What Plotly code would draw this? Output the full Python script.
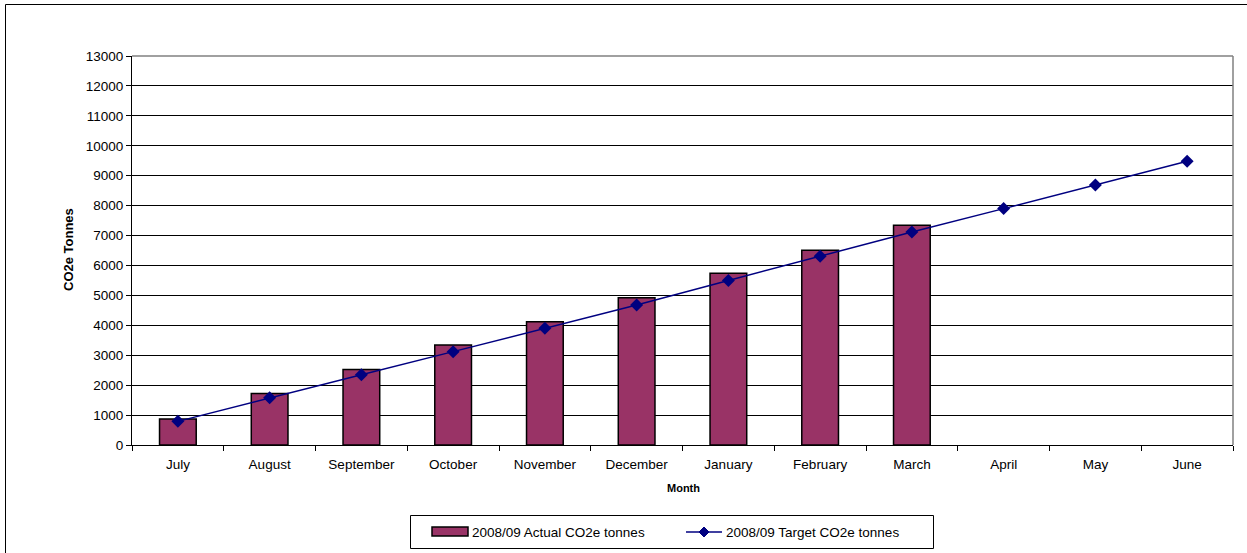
import plotly.graph_objects as go

months = ["July", "August", "September", "October", "November", "December",
          "January", "February", "March", "April", "May", "June"]
actual = [870, 1720, 2520, 3340, 4120, 4920, 5740, 6510, 7340, None, None, None]
target = [790, 1580, 2350, 3120, 3900, 4680, 5500, 6310, 7120, 7900, 8690, 9480]
y_ticks = list(range(0, 14000, 1000))
y_labels = [str(v) for v in y_ticks]

actual_name = "2008/09 Actual CO2e tonnes"
target_name = "2008/09 Target CO2e tonnes"
bar_color = "#993366"
line_color = "#000080"

W, H = 1247, 553
L, R, T, B = 132, 14, 56, 108
pw, ph = W - L - R, H - T - B

def px_x(p):
    return (p - L) / pw

def px_y(p):
    return (H - B - p) / ph

font = "Liberation Sans, Arial, sans-serif"

fig = go.Figure()
fig.add_trace(go.Bar(
    x=months, y=actual, name=actual_name,
    marker=dict(color=bar_color, line=dict(color="#000000", width=1.5)),
    width=0.4,
))
fig.add_trace(go.Scatter(
    x=months, y=target, name=target_name,
    mode="lines+markers",
    line=dict(color=line_color, width=1.5),
    marker=dict(symbol="diamond", size=10, color=line_color),
))

shapes = [
    # plot area frame (top and right edges)
    dict(type="line", xref="paper", yref="paper", x0=0, x1=1, y0=1, y1=1,
         line=dict(color="#808080", width=1.5)),
    dict(type="line", xref="paper", yref="paper", x0=1, x1=1, y0=0, y1=1,
         line=dict(color="#808080", width=1.5)),
    # chart outer border
    dict(type="rect", xref="paper", yref="paper",
         x0=px_x(5.5), x1=px_x(1260), y0=px_y(570), y1=px_y(4.5),
         line=dict(color="#000000", width=1), layer="below"),
    # legend box
    dict(type="rect", xref="paper", yref="paper",
         x0=px_x(410.5), x1=px_x(933.5), y0=px_y(548.5), y1=px_y(515.5),
         line=dict(color="#000000", width=1), fillcolor="white"),
    # legend key: bar swatch
    dict(type="rect", xref="paper", yref="paper",
         x0=px_x(432), x1=px_x(468), y0=px_y(536), y1=px_y(527),
         line=dict(color="#000000", width=1.5), fillcolor=bar_color),
    # legend key: line with diamond
    dict(type="line", xref="paper", yref="paper",
         x0=px_x(686), x1=px_x(722), y0=px_y(532), y1=px_y(532),
         line=dict(color=line_color, width=1.5)),
    dict(type="path", xref="paper", yref="paper",
         path="M {a},{b} L {c},{d} L {a},{e} L {f},{d} Z".format(
             a=px_x(704), b=px_y(527), c=px_x(709), d=px_y(532),
             e=px_y(537), f=px_x(699)),
         line=dict(color=line_color, width=1), fillcolor=line_color),
]

annotations = [
    dict(text="<b>Month</b>", xref="paper", yref="paper",
         x=px_x(683), y=px_y(488), xanchor="center", yanchor="middle",
         showarrow=False, font=dict(size=11)),
    dict(text="<b>CO2e Tonnes</b>", xref="paper", yref="paper",
         x=px_x(68), y=px_y(250), xanchor="center", yanchor="middle",
         textangle=-90, showarrow=False, font=dict(size=13)),
    dict(text=actual_name, xref="paper", yref="paper",
         x=px_x(470), y=px_y(532), xanchor="left", yanchor="middle",
         showarrow=False, font=dict(size=13.5)),
    dict(text=target_name, xref="paper", yref="paper",
         x=px_x(724), y=px_y(532), xanchor="left", yanchor="middle",
         showarrow=False, font=dict(size=13.5)),
]

fig.update_layout(
    width=W, height=H,
    margin=dict(l=L, r=R, t=T, b=B, autoexpand=False),
    paper_bgcolor="white", plot_bgcolor="white",
    font=dict(family=font, size=13.5, color="#000000"),
    showlegend=False,
    bargap=0.6,
    xaxis=dict(
        type="category", tickson="boundaries", ticks="outside", ticklen=5,
        tickcolor="#000000", showline=True, linecolor="#000000", linewidth=1,
        showgrid=False, tickfont=dict(size=13.5), automargin=False,
        ticklabelstandoff=7,
        range=[-0.5, 11.5],
    ),
    yaxis=dict(
        range=[0, 13000], tickvals=y_ticks, ticktext=y_labels,
        ticks="outside", ticklen=5,
        tickcolor="#000000", showline=True, linecolor="#000000", linewidth=1,
        showgrid=True, gridcolor="#000000", gridwidth=1, zeroline=False,
        tickfont=dict(size=13.5), automargin=False,
    ),
    shapes=shapes,
    annotations=annotations,
)

fig.write_html("out.html")
